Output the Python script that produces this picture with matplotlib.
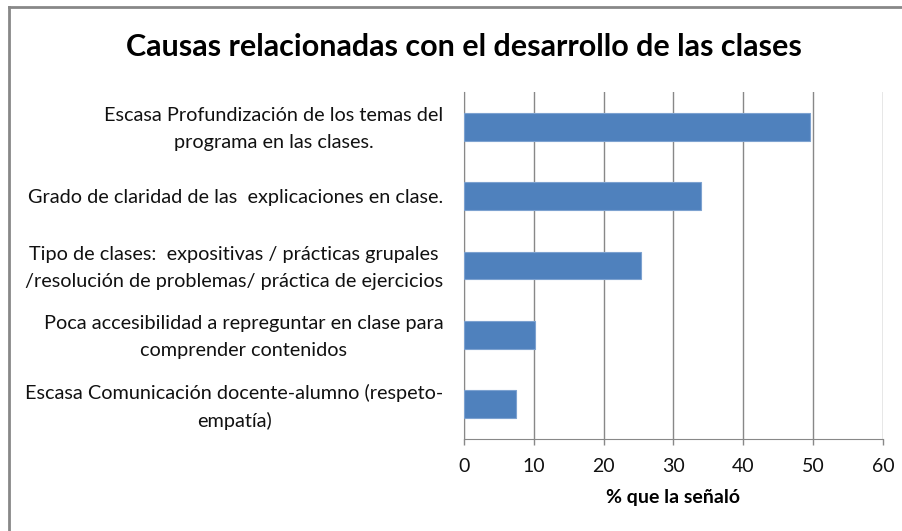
import matplotlib
matplotlib.use('Agg')
import matplotlib.pyplot as plt
from matplotlib.lines import Line2D
from matplotlib.transforms import ScaledTranslation

categorias = [
    'Escasa Profundización de los temas del\nprograma en las clases.',
    'Grado de claridad de las  explicaciones en clase.',
    'Tipo de clases:  expositivas / prácticas grupales\n/resolución de problemas/ práctica de ejercicios',
    'Poca accesibilidad a repreguntar en clase para\ncomprender contenidos',
    'Escasa Comunicación docente-alumno (respeto-\nempatía)',
]
valores = [49.5, 34.0, 25.4, 10.2, 7.4]
ticks_x = [0, 10, 20, 30, 40, 50, 60]

plt.rcParams['font.family'] = ['Lato', 'DejaVu Sans']

fig = plt.figure(figsize=(9.03, 5.31), dpi=100)
ax = fig.add_axes([464 / 903, 1 - 439 / 531, (883 - 464) / 903, (439 - 92) / 531])

pos = list(range(len(categorias)))
ax.barh(pos, valores, height=0.4, color='#4F81BD', edgecolor='#7DA2D0', linewidth=0.8, zorder=3)
ax.set_ylim(len(categorias) - 0.5, -0.5)
ax.set_yticks(pos)
ax.set_yticklabels(categorias, fontsize=14.3, multialignment='center', linespacing=1.7, color='#111111')
ax.tick_params(axis='y', length=0, pad=15)
# nudge the two-line labels up a little so they sit centred on the bar
for lab in ax.get_yticklabels():
    if '\n' in lab.get_text():
        lab.set_transform(lab.get_transform() + ScaledTranslation(0, 3 / 72, fig.dpi_scale_trans))

ax.set_xlim(0, 60)
ax.set_xticks(ticks_x)
ax.set_xticklabels([str(t) for t in ticks_x], fontsize=14, color='#111111')
ax.tick_params(axis='x', length=4, width=1, color='#888888', pad=10)
ax.grid(axis='x', color='#888888', linewidth=1, zorder=0)

for s in ['top', 'right']:
    ax.spines[s].set_visible(False)
ax.spines['left'].set_color('#888888')
ax.spines['bottom'].set_color('#888888')

ax.set_xlabel('% que la señaló', fontsize=14, fontweight='bold', labelpad=10)

fig.text(464 / 903, 1 - 47 / 531, 'Causas relacionadas con el desarrollo de las clases',
         fontsize=22, fontweight='bold', ha='center', va='center')

# chart border (top and left visible)
fig.add_artist(Line2D([9 / 903, 9 / 903], [0, 1 - 7 / 531], transform=fig.transFigure, color='#888888', linewidth=2))
fig.add_artist(Line2D([9 / 903, 1], [1 - 7 / 531, 1 - 7 / 531], transform=fig.transFigure, color='#888888', linewidth=2))

fig.savefig('out.png', dpi=100)
